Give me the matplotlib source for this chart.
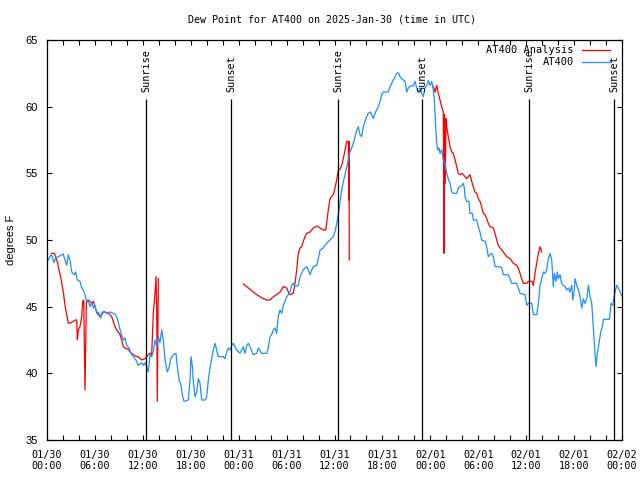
import matplotlib
matplotlib.use("Agg")
import matplotlib.pyplot as plt

# hours since 2025-01-30 00:00 UTC, dew point in degrees F
obs_hours = [
    0.16, 0.50, 0.66, 0.88, 1.09, 1.42, 2.04, 2.17, 2.47, 2.67, 2.88, 3.09, 3.42, 3.59, 3.79,
    4.13, 4.35, 4.55, 4.76, 4.97, 5.17, 5.38, 5.60, 5.80, 6.01, 6.22, 6.42, 6.76, 6.92, 7.26,
    7.48, 7.89, 8.30, 8.60, 8.85, 9.02, 9.27, 9.55, 9.77, 9.98, 10.27, 10.52, 10.81, 11.23,
    11.43, 11.86, 12.06, 12.27, 12.48, 12.68, 12.90, 13.11, 13.31, 13.52, 13.74, 13.94, 14.15,
    14.36, 14.56, 14.78, 15.06, 15.31, 15.49, 15.82, 16.15, 16.32, 16.57, 16.74, 16.99, 17.16,
    17.69, 17.91, 18.03, 18.19, 18.32, 18.53, 18.75, 18.95, 19.16, 19.37, 19.78, 20.00, 20.20,
    20.41, 20.62, 20.82, 21.04, 21.25, 21.45, 22.08, 22.29, 22.50, 22.70, 22.92, 23.13, 23.33,
    23.54, 23.75, 24.17, 24.38, 24.58, 24.79, 25.01, 25.21, 25.42, 25.83, 26.26, 26.46, 26.88,
    27.51, 27.71, 27.92, 28.14, 28.34, 28.55, 28.76, 28.96, 29.18, 29.39, 29.59, 29.80, 30.02,
    30.22, 30.43, 30.64, 30.84, 31.05, 31.47, 31.68, 31.89, 32.09, 32.31, 32.52, 32.72, 32.93,
    33.15, 33.35, 33.77, 33.97, 34.19, 34.60, 34.81, 35.02, 35.44, 35.85, 36.06, 36.28, 36.48,
    36.69, 36.90, 37.10, 37.32, 37.53, 37.73, 37.94, 38.15, 38.36, 38.57, 38.78, 38.98, 39.19,
    39.40, 39.61, 39.82, 40.03, 40.23, 40.45, 40.66, 40.86, 41.07, 41.28, 41.49, 41.70, 41.91,
    42.11, 42.74, 42.95, 43.16, 43.36, 43.58, 43.79, 43.99, 44.20, 44.42, 44.62, 44.83, 45.04,
    45.24, 45.46, 45.87, 46.08, 46.30, 46.50, 46.71, 46.92, 47.12, 47.33, 47.55, 47.75, 47.96,
    48.17, 48.38, 48.50, 48.67, 48.80, 48.92, 49.09, 49.21, 49.42, 49.62, 49.84, 50.05, 50.25,
    50.47, 50.68, 50.88, 51.31, 51.51, 51.72, 51.93, 52.13, 52.26, 52.34, 52.55, 52.84, 52.97,
    53.26, 53.38, 53.81, 54.01, 54.22, 54.43, 54.85, 55.06, 55.26, 55.47, 55.69, 55.89, 56.10,
    56.73, 56.94, 57.14, 57.77, 57.98, 58.19, 58.82, 59.02, 59.23, 59.86, 60.07, 60.27, 60.70,
    60.90, 61.32, 61.53, 61.74, 61.95, 62.15, 62.36, 62.57, 62.78, 62.99, 63.20, 63.40, 63.53,
    63.74, 63.90, 64.03, 64.24, 64.45, 64.65, 64.87, 65.08, 65.28, 65.49, 65.71, 65.83, 66.00,
    66.12, 66.34, 66.54, 66.75, 66.96, 67.16, 67.37, 67.59, 67.79, 68.00, 68.21, 68.41, 68.62,
    68.75, 68.91, 69.12, 69.34, 69.54, 69.67, 70.42, 70.63, 70.84, 71.00, 71.13, 71.34, 71.54,
    71.76, 72.00,
]
obs_dewpt = [
    48.5, 48.9, 48.8, 48.3, 48.65, 48.75, 48.95, 48.65, 48.1, 48.9, 48.5, 47.6, 47.4, 47.6, 47.0,
    46.9, 46.4, 46.25, 45.9, 45.4, 45.5, 45.0, 45.3, 44.9, 45.1, 44.5, 44.6, 44.15, 44.6, 44.6,
    44.5, 44.6, 44.5, 44.4, 44.0, 43.6, 43.0, 42.5, 42.65, 42.1, 41.9, 41.5, 41.25, 40.9,
    40.6, 40.8, 40.6, 40.8, 40.5, 40.1, 41.4, 41.25, 41.6, 42.5, 42.0, 42.75, 42.3,
    43.25, 42.5, 41.0, 40.1, 40.5, 41.1, 41.4, 41.5, 40.5, 39.4, 39.25, 38.25, 37.9,
    38.0, 39.5, 41.25, 40.6, 39.4, 38.25, 38.6, 39.6, 39.25, 38.0, 38.0, 38.25, 39.5,
    40.4, 41.1, 41.75, 42.25, 41.75, 41.25, 41.25, 41.1, 41.6, 41.9, 41.75, 42.1, 42.25,
    42.0, 41.75, 41.5, 41.75, 42.0, 41.5, 42.1, 42.25, 42.0, 41.4, 41.5, 41.9, 41.5,
    41.5, 41.9, 42.75, 42.9, 43.25, 43.4, 43.0, 44.25, 44.75, 44.5, 45.1, 45.4, 45.75,
    45.9, 46.1, 46.6, 46.75, 46.5, 46.6, 47.25, 47.5, 47.75, 47.9, 48.0, 47.75, 47.4,
    47.75, 48.0, 48.1, 48.6, 49.25, 49.4, 49.6, 49.75, 50.0, 50.25, 50.6, 51.25, 51.9,
    52.8, 53.75, 54.35, 54.9, 55.5, 56.0, 56.6, 56.9, 57.25, 57.75, 58.2, 58.5, 57.9,
    57.75, 58.5, 58.9, 59.25, 59.5, 59.6, 59.4, 59.1, 59.5, 59.75, 60.0, 60.4, 60.9,
    61.1, 61.1, 61.5, 61.75, 62.0, 62.25, 62.5, 62.55, 62.25, 62.1, 62.0, 61.9, 61.1,
    61.4, 61.55, 61.55, 61.9, 61.4, 61.1, 61.4, 61.0, 60.75, 61.4, 61.6, 61.95, 61.6,
    61.9, 61.25, 60.5, 58.5, 57.25, 56.75, 56.9, 56.5, 56.75, 56.0, 55.75, 55.0, 54.6,
    54.25, 53.6, 53.5, 53.5, 53.9, 54.0, 54.1, 54.25, 53.9, 53.25, 52.9, 52.9, 52.0,
    52.0, 51.5, 51.5, 51.0, 50.6, 50.0, 49.9, 49.5, 48.75, 48.9, 49.0, 48.75, 48.0,
    48.0, 47.9, 47.4, 47.4, 47.1, 46.75, 46.75, 46.4, 46.0, 45.9, 45.1, 45.25, 45.25,
    44.4, 44.4, 45.25, 46.6, 47.1, 47.6, 47.5, 47.75, 48.6, 49.0, 48.5, 46.5, 47.5,
    46.9, 47.6, 47.1, 47.4, 46.75, 46.6, 46.5, 46.25, 46.4, 46.1, 46.6, 45.5, 46.1,
    47.1, 46.6, 46.25, 45.75, 44.9, 45.6, 45.25, 45.6, 46.6, 45.75, 45.25, 43.4, 41.5,
    40.5, 41.5, 42.25, 43.1, 43.5, 44.05, 44.05, 45.25, 45.1, 45.75, 46.1, 46.6, 46.4,
    46.1, 45.8,
]

# analysis has three pieces with gaps between them
ana1_hours = [
    0.59, 0.91, 1.09, 1.34, 1.50, 1.75, 1.92, 2.09, 2.25, 2.47, 2.67, 3.01, 3.29, 3.51, 3.72,
    3.79, 3.92, 4.13, 4.35, 4.47, 4.60, 4.67, 4.76, 4.85, 4.92, 5.17, 5.38, 5.60, 5.80, 6.01,
    6.22, 6.42, 6.64, 6.85, 7.05, 7.26, 7.68, 7.89, 8.10, 8.30, 8.52, 8.73, 8.93, 9.14, 9.35,
    9.55, 9.77, 10.18, 10.39, 10.61, 11.02, 11.43, 11.65, 11.86, 12.27, 12.68, 12.90, 13.11,
    13.31, 13.52, 13.65, 13.74, 13.81, 13.94,
]
ana1_dewpt = [
    49.0, 49.0, 48.75, 48.25, 47.75, 47.1, 46.5, 45.9, 45.1, 44.4, 43.75, 43.8, 43.9, 44.0, 44.0,
    42.5, 43.25, 43.5, 44.25, 45.4, 45.5, 42.4, 38.75, 42.25, 45.25, 45.5, 45.4, 45.25, 45.4, 45.0,
    44.6, 44.4, 44.25, 44.4, 44.6, 44.6, 44.5, 44.4, 44.25, 43.9, 43.5, 43.25, 43.1, 42.9, 42.5,
    42.0, 41.9, 41.8, 41.6, 41.5, 41.3, 41.25, 41.1, 41.0, 41.1, 41.4, 41.5, 41.4,
    44.5, 46.0, 47.25, 44.75, 37.9, 47.1,
]
ana2_hours = [
    24.58, 25.01, 25.42, 25.83, 26.26, 26.67, 27.09, 27.51, 27.92, 28.34, 28.76, 29.18, 29.59,
    30.02, 30.22, 30.43, 30.84, 31.05, 31.27, 31.47, 31.68, 31.89, 32.09, 32.31, 32.52, 32.93,
    33.35, 33.77, 34.19, 34.60, 34.90, 35.02, 35.22, 35.44, 35.85, 36.06, 36.28, 36.48, 36.69,
    36.90, 37.10, 37.32, 37.53, 37.73, 37.78, 37.82, 37.85,
]
ana2_dewpt = [
    46.7, 46.5, 46.3, 46.1, 45.9, 45.75, 45.6, 45.5, 45.5, 45.75, 45.9, 46.1, 46.5,
    46.4, 46.1, 45.9, 46.0, 46.75, 47.75, 49.0, 49.4, 49.5, 49.9, 50.25, 50.5, 50.6,
    50.9, 51.05, 50.9, 50.75, 50.75, 51.25, 52.25, 53.1, 53.4, 53.9, 54.5, 55.25, 55.3,
    55.6, 56.1, 56.75, 57.4, 57.4, 53.0, 57.4, 48.5,
]
ana3_hours = [
    48.38, 48.59, 48.80, 49.00, 49.21, 49.42, 49.62, 49.71, 49.77, 49.87, 49.96, 50.05, 50.25,
    50.47, 50.68, 50.88, 51.10, 51.31, 51.51, 51.72, 51.93, 52.13, 52.34, 52.55, 52.76, 52.97,
    53.18, 53.38, 53.59, 53.81, 54.01, 54.22, 54.43, 54.64, 54.85, 55.06, 55.26, 55.47, 55.89,
    56.10, 56.31, 56.51, 56.73, 57.14, 57.56, 57.98, 58.40, 58.82, 59.02, 59.23, 59.44, 59.64,
    60.07, 60.27, 60.70, 60.90, 61.11, 61.32, 61.53, 61.74, 61.95,
]
ana3_dewpt = [
    61.5, 61.1, 61.6, 61.0, 60.5, 60.0, 59.6, 49.0, 59.4, 54.25, 59.1, 58.5, 57.75,
    57.0, 56.6, 56.5, 56.0, 55.5, 55.0, 54.9, 55.0, 54.9, 54.75, 54.6, 54.75, 54.9,
    54.4, 54.0, 53.6, 53.5, 53.1, 52.9, 52.5, 52.0, 51.9, 51.6, 51.25, 51.0, 50.9,
    50.5, 50.0, 49.6, 49.4, 49.1, 48.75, 48.6, 48.25, 48.1, 47.9, 47.5, 47.1, 46.75,
    46.75, 46.9, 46.9, 46.6, 47.5, 48.25, 49.0, 49.5, 49.1,
]

sun_hours = [12.40, 23.04, 36.44, 46.96, 60.36, 71.00]
sun_labels = ['Sunrise', 'Sunset', 'Sunrise', 'Sunset', 'Sunrise', 'Sunset']

tick_hours = list(range(0, 73, 6))
tick_labels = ['01/30\n00:00', '01/30\n06:00', '01/30\n12:00', '01/30\n18:00',
               '01/31\n00:00', '01/31\n06:00', '01/31\n12:00', '01/31\n18:00',
               '02/01\n00:00', '02/01\n06:00', '02/01\n12:00', '02/01\n18:00',
               '02/02\n00:00']

mono = 'DejaVu Sans Mono'
sans = 'Liberation Sans'
plt.rcParams['font.family'] = [mono]

fig = plt.figure(figsize=(6.4, 4.8), dpi=100)
ax = fig.add_axes([47 / 640, 40 / 480, 575 / 640, 400 / 480])

red = '#ff0000'
blue = '#1e90ff'
ax.plot(ana1_hours, ana1_dewpt, color=red, lw=0.9)
ax.plot(ana2_hours, ana2_dewpt, color=red, lw=0.9)
ax.plot(ana3_hours, ana3_dewpt, color=red, lw=0.9)
ax.plot(obs_hours, obs_dewpt, color=blue, lw=0.9)

for h, lab in zip(sun_hours, sun_labels):
    ax.vlines(h, 35, 60.6, color='black', lw=0.9)
    ax.text(h, 61.1, lab, rotation=90, ha='center', va='bottom', fontsize=7.3)

ax.set_xlim(0, 72)
ax.set_ylim(35, 65)
ax.set_xticks(tick_hours)
ax.set_xticklabels(tick_labels, fontsize=7.3, linespacing=1.15)
ax.set_xticks(range(0, 73, 2), minor=True)
ax.set_yticks(range(35, 66, 5))
ax.set_yticklabels([str(v) for v in range(35, 66, 5)], fontsize=8, family=sans)
ax.tick_params(direction='in', top=True, right=True, length=3.5, width=0.8)
ax.tick_params(axis='x', pad=7)
ax.tick_params(axis='y', pad=6.5)
ax.tick_params(which='minor', direction='in', top=True, length=3.5, width=0.8)
for s in ax.spines.values():
    s.set_linewidth(0.9)

ax.set_ylabel('degrees F', fontsize=8, family=sans, labelpad=7)
fig.text(332 / 640, 1 - 19 / 480, 'Dew Point for AT400 on 2025-Jan-30 (time in UTC)',
         ha='center', va='center', fontsize=7.2)

# gnuplot style key: right-aligned text, sample line to the right
key_names = ['AT400 Analysis', 'AT400']
key_colors = [red, blue]
key_y = [0.975, 0.945]
for name, c, y in zip(key_names, key_colors, key_y):
    ax.text(0.9165, y, name, transform=ax.transAxes, ha='right', va='center', fontsize=7.5)
    ax.plot([0.930, 0.979], [y, y], transform=ax.transAxes, color=c, lw=0.9, clip_on=False)

fig.savefig('out.png', dpi=100)
